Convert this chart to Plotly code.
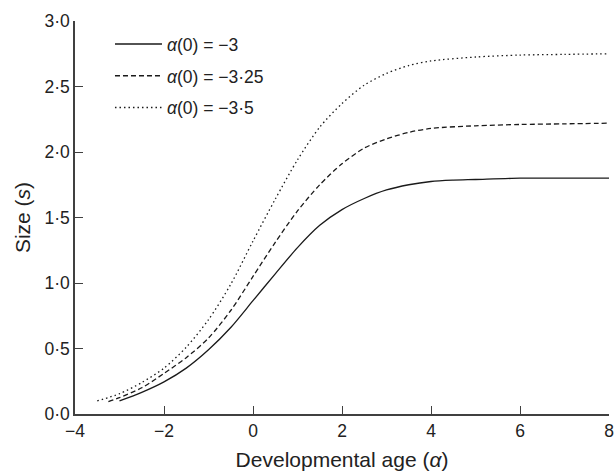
import plotly.graph_objects as go

# Data
x_a = [-3.0, -2.5, -2.0, -1.5, -1.0, -0.5, 0.0, 0.5, 1.0, 1.5, 2.0, 2.5, 3.0, 3.5, 4.0, 4.5, 5.0, 6.0, 7.0, 8.0]
s_a = [0.10, 0.165, 0.245, 0.35, 0.49, 0.66, 0.865, 1.07, 1.27, 1.44, 1.56, 1.645, 1.71, 1.75, 1.775, 1.785, 1.79, 1.80, 1.80, 1.80]

x_b = [-3.25, -3.0, -2.5, -2.0, -1.5, -1.0, -0.5, 0.0, 0.5, 1.0, 1.5, 2.0, 2.5, 3.0, 3.5, 4.0, 5.0, 6.0, 7.0, 8.0]
s_b = [0.095, 0.125, 0.20, 0.31, 0.43, 0.58, 0.79, 1.05, 1.31, 1.55, 1.75, 1.91, 2.03, 2.10, 2.15, 2.18, 2.20, 2.21, 2.215, 2.22]

x_c = [-3.5, -3.0, -2.5, -2.0, -1.5, -1.0, -0.5, 0.0, 0.5, 1.0, 1.5, 2.0, 2.5, 3.0, 3.5, 4.0, 5.0, 6.0, 7.0, 8.0]
s_c = [0.10, 0.155, 0.24, 0.35, 0.51, 0.72, 0.99, 1.32, 1.64, 1.94, 2.19, 2.37, 2.51, 2.60, 2.66, 2.695, 2.725, 2.74, 2.745, 2.75]

names = ["<i>α</i>(0) = −3", "<i>α</i>(0) = −3·25", "<i>α</i>(0) = −3·5"]

x_ticks = [-4, -2, 0, 2, 4, 6, 8]
x_ticktext = ["−4", "−2", "0", "2", "4", "6", "8"]
y_ticks = [0.0, 0.5, 1.0, 1.5, 2.0, 2.5, 3.0]
y_ticktext = ["0·0", "0·5", "1·0", "1·5", "2·0", "2·5", "3·0"]

FONT = "Liberation Sans, Arial, Helvetica, sans-serif"
LINE = "#1a1a1a"
AXIS = "#404040"

fig = go.Figure()
for i, (xs, ys, dash) in enumerate([(x_a, s_a, "solid"), (x_b, s_b, "5px,3px"), (x_c, s_c, "1.5px,3px")]):
    fig.add_trace(go.Scatter(
        x=xs, y=ys, mode="lines", name=names[i], legendgroup=f"g{i}",
        line=dict(color=LINE, width=1.3, dash=dash, shape="spline", smoothing=0.8),
    ))

fig.update_layout(
    width=616, height=471,
    margin=dict(l=75, r=7, t=21, b=57),
    paper_bgcolor="white", plot_bgcolor="white",
    font=dict(family=FONT, size=17.5, color="#222"),
    showlegend=True,
    legend=dict(x=0.0655, y=0.987, xanchor="left", yanchor="top", itemwidth=47,
                bgcolor="rgba(0,0,0,0)", font=dict(size=17.5), tracegroupgap=6),
    xaxis=dict(range=[-4, 8], tickvals=x_ticks, ticktext=x_ticktext, automargin=False,
               showgrid=False, zeroline=False, showline=True, linecolor=AXIS, linewidth=1.5,
               ticks="inside", ticklen=8, tickwidth=1.2, tickcolor=AXIS,
               title=dict(text="Developmental age (<i>α</i>)", standoff=14)),
    yaxis=dict(range=[0, 3], tickvals=y_ticks, ticktext=y_ticktext, automargin=False,
               showgrid=False, zeroline=False, showline=True, linecolor=AXIS, linewidth=1.5,
               ticks="inside", ticklen=8, tickwidth=1.2, tickcolor=AXIS,
               title=dict(text="Size (<i>s</i>)", standoff=8)),
)

fig.write_html("out.html")
